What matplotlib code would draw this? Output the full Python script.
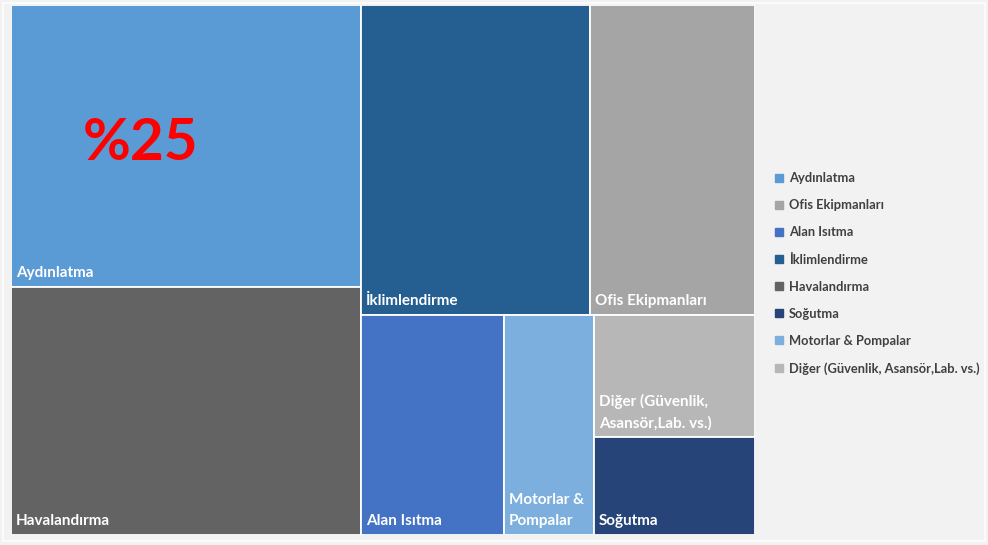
import matplotlib
matplotlib.use("Agg")
import matplotlib.pyplot as plt
from matplotlib.patches import Rectangle
from matplotlib.lines import Line2D

# Energy consumption shares by end use (percent)
categories = ["Aydınlatma", "Ofis Ekipmanları", "Alan Isıtma", "İklimlendirme",
              "Havalandırma", "Soğutma", "Motorlar & Pompalar",
              "Diğer (Güvenlik, Asansör,Lab. vs.)"]
values = [25, 13, 8, 18, 22, 4, 5, 5]
tile_labels = ["Aydınlatma", "Ofis Ekipmanları", "Alan Isıtma", "İklimlendirme",
               "Havalandırma", "Soğutma", "Motorlar &\nPompalar",
               "Diğer (Güvenlik,\nAsansör,Lab. vs.)"]
colors = ["#5B9BD5", "#A5A5A5", "#4472C4", "#255E91",
          "#636363", "#264478", "#7CAFDD", "#B7B7B7"]
highlight = 0  # category whose share is written inside its tile

FONT = ["Lato", "DejaVu Sans"]


def split_layout(items, x, y, w, h, out):
    """Recursive binary split: divide items into two groups of near-equal sum,
    cutting across the longer side of the rectangle."""
    if len(items) == 1:
        out[items[0][0]] = (x, y, w, h)
        return
    total = sum(v for _, v in items)
    best_k, best_d, acc = 1, None, 0
    for k in range(1, len(items)):
        acc += items[k - 1][1]
        d = abs(acc - total / 2)
        if best_d is None or d < best_d:
            best_k, best_d = k, d
    first, second = items[:best_k], items[best_k:]
    s1 = sum(v for _, v in first)
    if w >= h:
        w1 = w * s1 / total
        split_layout(first, x, y, w1, h, out)
        split_layout(second, x + w1, y, w - w1, h, out)
    else:
        h1 = h * s1 / total
        split_layout(first, x, y, w, h1, out)
        split_layout(second, x, y + h1, w, h - h1, out)


fig = plt.figure(figsize=(9.88, 5.45), dpi=100, facecolor="#F2F2F2")

# thin light frame around the chart area
fig.patches.append(Rectangle((3 / 988, 4 / 545), 982 / 988, 538 / 545,
                             transform=fig.transFigure, fill=False,
                             edgecolor="#FBFBFB", linewidth=1.5))

W, H = 744.0, 530.0
ax = fig.add_axes([11 / 988, 10 / 545, W / 988, H / 545])
ax.set_xlim(0, W)
ax.set_ylim(H, 0)
ax.axis("off")

order = sorted(range(len(values)), key=lambda i: -values[i])
rects = {}
split_layout([(i, values[i]) for i in order], 0, 0, W, H, rects)

for i, (x, y, w, h) in rects.items():
    ax.add_patch(Rectangle((x, y), w, h, facecolor=colors[i],
                           edgecolor="white", linewidth=1.3))
    ax.text(x + 5, y + h - 7, tile_labels[i], color="white", fontsize=11,
            fontweight="bold", family=FONT, ha="left", va="bottom",
            linespacing=1.6)

hx, hy, hw, hh = rects[highlight]
ax.text(hx + 0.37 * hw, hy + 0.49 * hh, f"%{values[highlight]}", color="#FF0000",
        fontsize=42, fontweight="bold", family=FONT, ha="center", va="center")

handles = [Line2D([], [], marker="s", linestyle="none", markersize=6,
                  markerfacecolor=c, markeredgecolor=c) for c in colors]
leg = fig.legend(handles, categories, loc="upper left",
                 bbox_to_anchor=(770 / 988, 1 - 167 / 545), frameon=False,
                 handlelength=0.6, handletextpad=0.45, labelspacing=1.17,
                 borderaxespad=0,
                 prop={"family": FONT, "size": 9.3, "weight": "bold"})
for t in leg.get_texts():
    t.set_color("#404040")

fig.savefig("out.png", dpi=100, facecolor=fig.get_facecolor())
